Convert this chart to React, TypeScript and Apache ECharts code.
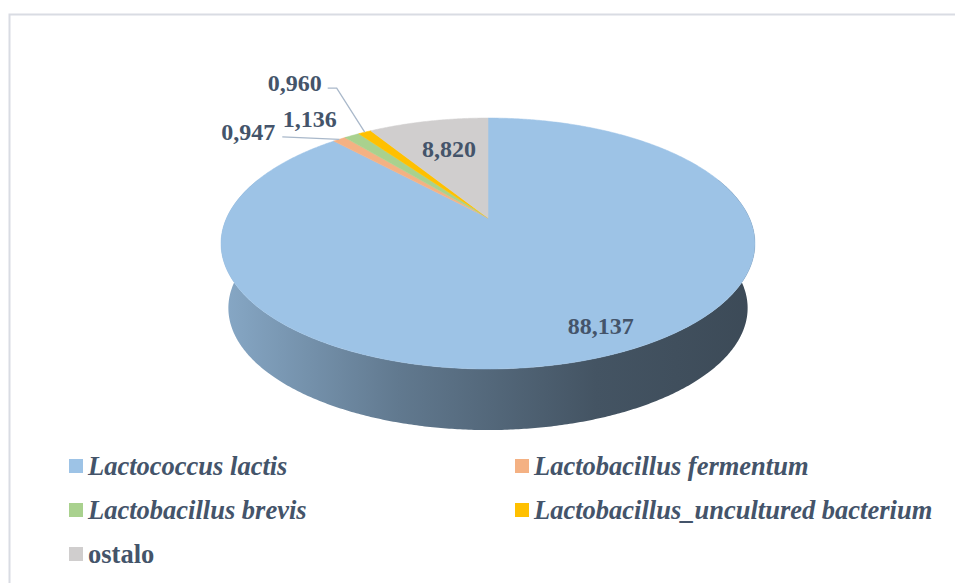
import React, { useEffect, useRef } from 'react';
import * as echarts from 'echarts';

// ---- data ----
const CATEGORIES = [
  'Lactococcus lactis',
  'Lactobacillus fermentum',
  'Lactobacillus brevis',
  'Lactobacillus_uncultured bacterium',
  'ostalo',
];
const VALUES = [88.137, 0.947, 1.136, 0.96, 8.82];
const LABELS = ['88,137', '0,947', '1,136', '0,960', '8,820'];
const ITALIC = [true, true, true, true, false];

// ---- styles ----
const COLORS = ['#9dc3e6', '#f4b183', '#a9d18e', '#ffc000', '#d0cece'];
const TEXT_COLOR = '#44546a';
const FONT = 'Liberation Serif';

// perspective geometry of the 3D pie
const GEO = { cx: 488, cy: 218, a: 261.4, c: 120.3, k: 0.2032, vpY: 2590, s: 0.9725 };
const FRONT = [-20, 200];

// label layout: offsets relative to an anchor (inside: mid-angle at 0.7 radius; outside: rim at mid-angle)
const LABEL_LAYOUT = [
  { inside: true, dx: 36, dy: 18, leader: null },
  { inside: false, dx: -91, dy: -7, leader: [[34, 4.5]] },
  { inside: false, dx: -42, dy: -17, leader: null },
  { inside: false, dx: -70, dy: -49, leader: [[33, 5], [42, 5]] },
  { inside: true, dx: 5, dy: 2, leader: null },
];

function top(tDeg: number, r = 1): number[] {
  const t = (tDeg * Math.PI) / 180;
  const u = r * Math.cos(t);
  const v = r * Math.sin(t);
  const w = 1 - GEO.k * v;
  return [GEO.cx + (GEO.a * u) / w, GEO.cy + (GEO.c * v) / w];
}
function bottom(tDeg: number): number[] {
  const [x, y] = top(tDeg);
  return [GEO.cx + GEO.s * (x - GEO.cx), GEO.vpY - GEO.s * (GEO.vpY - y)];
}
function arc(a0: number, a1: number, fn: (t: number) => number[]): number[][] {
  const n = Math.max(2, Math.ceil((a1 - a0) / 0.5));
  const pts: number[][] = [];
  for (let j = 0; j <= n; j++) pts.push(fn(a0 + ((a1 - a0) * j) / n));
  return pts;
}
function shade(hex: string, f: number): string {
  const n = parseInt(hex.slice(1), 16);
  const r = Math.round(((n >> 16) & 255) * f);
  const g = Math.round(((n >> 8) & 255) * f);
  const b = Math.round((n & 255) * f);
  return `rgb(${r},${g},${b})`;
}

const TOTAL = VALUES.reduce((s, v) => s + v, 0);

function makeSeries(i: number) {
  return {
    type: 'custom',
    name: CATEGORIES[i],
    coordinateSystem: 'none',
    itemStyle: { color: COLORS[i] },
    data: [[VALUES[i]]],
    renderItem: (_params: any, api: any) => {
      const val = api.value(0) as number;
      const before = VALUES.slice(0, i).reduce((s, v) => s + v, 0);
      const a0 = -90 + (360 * before) / TOTAL;
      const a1 = a0 + (360 * val) / TOTAL;
      const children: any[] = [];
      // side wall
      for (const shift of [-360, 0, 360]) {
        const lo = Math.max(a0 + shift, FRONT[0]);
        const hi = Math.min(a1 + shift, FRONT[1]);
        if (hi > lo) {
          const pts = arc(lo, hi, top).concat(arc(lo, hi, bottom).reverse());
          children.push({
            type: 'polygon',
            z2: 0,
            shape: { points: pts },
            style: {
              fill: {
                type: 'linear',
                x: 222,
                y: 0,
                x2: 756,
                y2: 0,
                global: true,
                colorStops: [
                  { offset: 0, color: shade(COLORS[i], 0.86) },
                  { offset: 0.33, color: shade(COLORS[i], 0.62) },
                  { offset: 0.7, color: shade(COLORS[i], 0.43) },
                  { offset: 1, color: shade(COLORS[i], 0.38) },
                ],
              },
              stroke: null,
            },
          });
        }
      }
      // top face
      const facePts = [top(0, 0)].concat(arc(a0, a1, (t) => top(t)));
      children.push({
        type: 'polygon',
        z2: 10,
        shape: { points: facePts },
        style: { fill: COLORS[i], stroke: COLORS[i], lineWidth: 0.5 },
      });
      // label
      const lay = LABEL_LAYOUT[i];
      const mid = (a0 + a1) / 2;
      const anchor = lay.inside ? top(mid, 0.7) : top(mid, 1);
      const lx = anchor[0] + lay.dx;
      const ly = anchor[1] + lay.dy;
      children.push({
        type: 'text',
        z2: 20,
        x: lx,
        y: ly,
        style: {
          text: LABELS[i],
          fill: TEXT_COLOR,
          fontFamily: FONT,
          fontSize: 24,
          fontWeight: 'bold',
          align: 'center',
          verticalAlign: 'middle',
        },
      });
      if (lay.leader) {
        const pts = lay.leader.map((p) => [lx + p[0], ly + p[1]]).concat([anchor]);
        children.push({
          type: 'polyline',
          z2: 20,
          shape: { points: pts },
          style: { stroke: '#a9b8ca', lineWidth: 1.3, fill: null },
        });
      }
      return { type: 'group', children };
    },
  };
}

export default function App() {
  const ref = useRef<HTMLDivElement>(null);
  useEffect(() => {
    if (!ref.current) return;
    const chart = echarts.init(ref.current, null, { renderer: 'svg' });
    chart.setOption({
      animation: false,
      backgroundColor: '#ffffff',
      color: COLORS,
      graphic: [
        {
          type: 'rect',
          silent: true,
          shape: { x: 9.5, y: 14.5, width: 1000, height: 1000 },
          style: { fill: 'none', stroke: '#d9dce3', lineWidth: 2 },
        },
      ],
      legend: {
        left: 69,
        top: 449,
        width: 890,
        padding: 0,
        orient: 'horizontal',
        icon: 'rect',
        itemWidth: 14,
        itemHeight: 14,
        itemGap: 10,
        selectedMode: false,
        data: CATEGORIES.map((n, i) => ({
          name: n,
          textStyle: { fontStyle: ITALIC[i] ? 'italic' : 'normal' },
        })),
        textStyle: {
          fontFamily: FONT,
          fontSize: 26.5,
          fontWeight: 'bold',
          color: TEXT_COLOR,
          width: 417,
          lineHeight: 34,
        },
      },
      series: CATEGORIES.map((_, i) => makeSeries(i)),
    });
    return () => chart.dispose();
  }, []);
  return (
    <div
      ref={ref}
      style={{ position: 'absolute', left: 0, top: 0, width: 955, height: 583, background: '#fff' }}
    />
  );
}
